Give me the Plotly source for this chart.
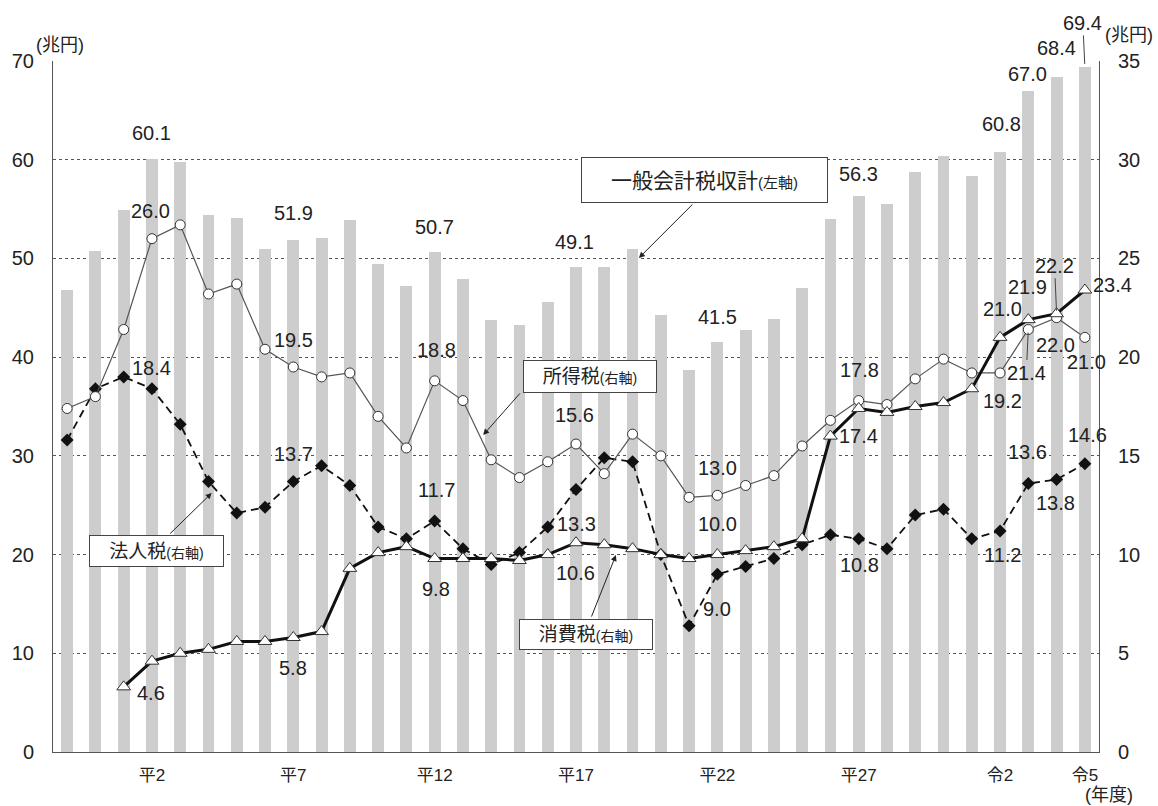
import plotly.graph_objects as go

# 年度（昭和62年度～令和5年度）
fiscal_years = [
    "昭62", "昭63", "平1", "平2", "平3", "平4", "平5", "平6", "平7", "平8",
    "平9", "平10", "平11", "平12", "平13", "平14", "平15", "平16", "平17", "平18",
    "平19", "平20", "平21", "平22", "平23", "平24", "平25", "平26", "平27", "平28",
    "平29", "平30", "令1", "令2", "令3", "令4", "令5",
]
tick_years = ["平2", "平7", "平12", "平17", "平22", "平27", "令2", "令5"]

# 一般会計税収計（左軸・兆円）
tax_total = [
    46.8, 50.8, 54.9, 60.1, 59.8, 54.4, 54.1, 51.0, 51.9, 52.1,
    53.9, 49.4, 47.2, 50.7, 47.9, 43.8, 43.3, 45.6, 49.1, 49.1,
    51.0, 44.3, 38.7, 41.5, 42.8, 43.9, 47.0, 54.0, 56.3, 55.5,
    58.8, 60.4, 58.4, 60.8, 67.0, 68.4, 69.4,
]
# 所得税（右軸・兆円）
income_tax = [
    17.4, 18.0, 21.4, 26.0, 26.7, 23.2, 23.7, 20.4, 19.5, 19.0,
    19.2, 17.0, 15.4, 18.8, 17.8, 14.8, 13.9, 14.7, 15.6, 14.1,
    16.1, 15.0, 12.9, 13.0, 13.5, 14.0, 15.5, 16.8, 17.8, 17.6,
    18.9, 19.9, 19.2, 19.2, 21.4, 22.0, 21.0,
]
# 法人税（右軸・兆円）
corporate_tax = [
    15.8, 18.4, 19.0, 18.4, 16.6, 13.7, 12.1, 12.4, 13.7, 14.5,
    13.5, 11.4, 10.8, 11.7, 10.3, 9.5, 10.1, 11.4, 13.3, 14.9,
    14.7, 10.0, 6.4, 9.0, 9.4, 9.8, 10.5, 11.0, 10.8, 10.3,
    12.0, 12.3, 10.8, 11.2, 13.6, 13.8, 14.6,
]
# 消費税（右軸・兆円、平成元年度から）
consumption_tax = [
    None, None, 3.3, 4.6, 5.0, 5.2, 5.6, 5.6, 5.8, 6.1,
    9.3, 10.1, 10.4, 9.8, 9.8, 9.8, 9.7, 10.0, 10.6, 10.5,
    10.3, 10.0, 9.8, 10.0, 10.2, 10.4, 10.8, 16.0, 17.4, 17.2,
    17.5, 17.7, 18.4, 21.0, 21.9, 22.2, 23.4,
]

FONT = "Liberation Sans, Arial, Noto Sans CJK JP, sans-serif"
TXT = "#222222"
AXIS = "#555555"

# plot area in pixels
W, H = 1158, 806
L, R, T, B = 51, 59, 61, 54
PW, PH = W - L - R, H - T - B


def px(x):
    return (x - L) / PW


def py(y):
    return (H - B - y) / PH


fig = go.Figure()
fig.add_bar(x=fiscal_years, y=tax_total, marker=dict(color="#cdcdcd", line_width=0),
            width=0.42, yaxis="y", hoverinfo="x+y")
fig.add_scatter(x=fiscal_years, y=corporate_tax, yaxis="y2", mode="lines+markers",
                line=dict(color="#111111", width=1.8, dash="8px,5px"),
                marker=dict(symbol="diamond", size=10, color="#111111"))
fig.add_scatter(x=fiscal_years, y=income_tax, yaxis="y2", mode="lines+markers",
                line=dict(color="#555555", width=1.2),
                marker=dict(symbol="circle", size=10, color="white",
                            line=dict(color="#333333", width=1)))
fig.add_scatter(x=fiscal_years, y=consumption_tax, yaxis="y2", mode="lines+markers",
                line=dict(color="#111111", width=3), connectgaps=False,
                marker=dict(symbol="triangle-up", size=12, color="white",
                            line=dict(color="#333333", width=1)))

annotations = []


def value_labels(series, yref, offsets, leaders):
    for i, (dx, dy) in offsets.items():
        v = series[i]
        annotations.append(dict(x=fiscal_years[i], y=v, xref="x", yref=yref,
                                text=f"{v:.1f}", showarrow=False, xshift=dx, yshift=dy,
                                xanchor="center", yanchor="middle",
                                font=dict(size=20, color=TXT)))
    for i, (ax, ay) in leaders.items():
        v = series[i]
        annotations.append(dict(x=fiscal_years[i], y=v, xref="x", yref=yref,
                                text=f"{v:.1f}", showarrow=True, arrowhead=0,
                                arrowwidth=1, arrowcolor="#444444", ax=ax, ay=ay,
                                standoff=3, font=dict(size=20, color=TXT)))


value_labels(tax_total, "y",
             {3: (0, 26), 8: (0, 27), 13: (0, 25), 18: (-2, 25), 23: (0, 25),
              28: (0, 22), 33: (1, 28), 34: (-1, 17), 35: (0, 29)},
             {36: (-2, -44)})
value_labels(income_tax, "y2",
             {3: (-1, 28), 8: (0, 27), 13: (2, 31), 18: (-2, 29), 23: (0, 27),
              28: (1, 31), 33: (2, -28), 35: (-1, -27), 36: (2, -25)},
             {34: (-2, 43)})
value_labels(consumption_tax, "y2",
             {3: (-1, -32), 8: (0, -31), 13: (1, -30), 18: (-1, -30), 23: (0, 31),
              28: (0, -28), 33: (2, 28), 34: (-1, 33), 36: (28, 5)},
             {35: (-2, -48)})
value_labels(corporate_tax, "y2",
             {3: (0, 21), 8: (0, 28), 13: (2, 31), 18: (0, -35), 23: (0, -35),
              28: (1, -26), 33: (2, -24), 34: (-1, 32), 35: (-1, -23), 36: (3, 29)},
             {})


def callout(main, sub, cx, cy, w, h, size, subsize):
    annotations.append(dict(
        x=px(cx), y=py(cy), xref="paper", yref="paper", showarrow=False,
        xanchor="center", yanchor="middle",
        text=f"{main}<span style='font-size:{subsize}px'>{sub}</span>",
        width=w, height=h, borderpad=0, bgcolor="white", bordercolor="#444444",
        borderwidth=1, align="center", valign="middle",
        font=dict(size=size, color=TXT)))


def arrow(x0, y0, x1, y1):
    annotations.append(dict(
        x=px(x1), y=py(y1), xref="paper", yref="paper", text="", showarrow=True,
        ax=x0 - x1, ay=y0 - y1, arrowhead=2, arrowsize=1.2, arrowwidth=1,
        arrowcolor="#222222", standoff=0))


callout("一般会計税収計", "(左軸)", 703.5, 180, 245, 44, 21, 15)
callout("所得税", "(右軸)", 589, 376.5, 132, 31, 19, 14)
callout("法人税", "(右軸)", 154.5, 551, 133, 30, 19, 14)
callout("消費税", "(右軸)", 585, 634.5, 132, 29, 19, 14)
arrow(693, 203, 638, 258)
arrow(520, 392, 482, 435)
arrow(167, 535, 210, 493)
arrow(590, 618, 615, 555)

# unit captions
for text, x, y in [("(兆円)", 58, 45), ("(兆円)", 1129, 35), ("(年度)", 1109, 795)]:
    annotations.append(dict(x=px(x), y=py(y), xref="paper", yref="paper", text=text,
                            xanchor="center", yanchor="middle",
                            showarrow=False, font=dict(size=18, color=TXT)))

fig.update_layout(
    width=W, height=H,
    margin=dict(l=L, r=R, t=T, b=B, pad=0),
    paper_bgcolor="white", plot_bgcolor="white",
    showlegend=False,
    font=dict(family=FONT, color=TXT),
    bargap=0,
    xaxis=dict(type="category", range=[-0.5, 36.5], tickmode="array",
               tickvals=tick_years, ticktext=tick_years, showline=True,
               linecolor=AXIS, linewidth=1, ticks="", showgrid=False,
               tickfont=dict(size=17), ticklabelstandoff=8),
    yaxis=dict(range=[0, 70], tick0=0, dtick=10, showgrid=True, gridcolor="#555555",
               griddash="dot", gridwidth=1, showline=True, linecolor=AXIS,
               linewidth=1, zeroline=False, ticks="", tickfont=dict(size=20),
               ticklabelstandoff=14),
    yaxis2=dict(range=[0, 35], tick0=0, dtick=5, overlaying="y", side="right",
                showgrid=False, showline=True, linecolor=AXIS, linewidth=1,
                zeroline=False, ticks="", tickfont=dict(size=20),
                ticklabelstandoff=14),
    annotations=annotations,
)

fig.write_html("out.html")
